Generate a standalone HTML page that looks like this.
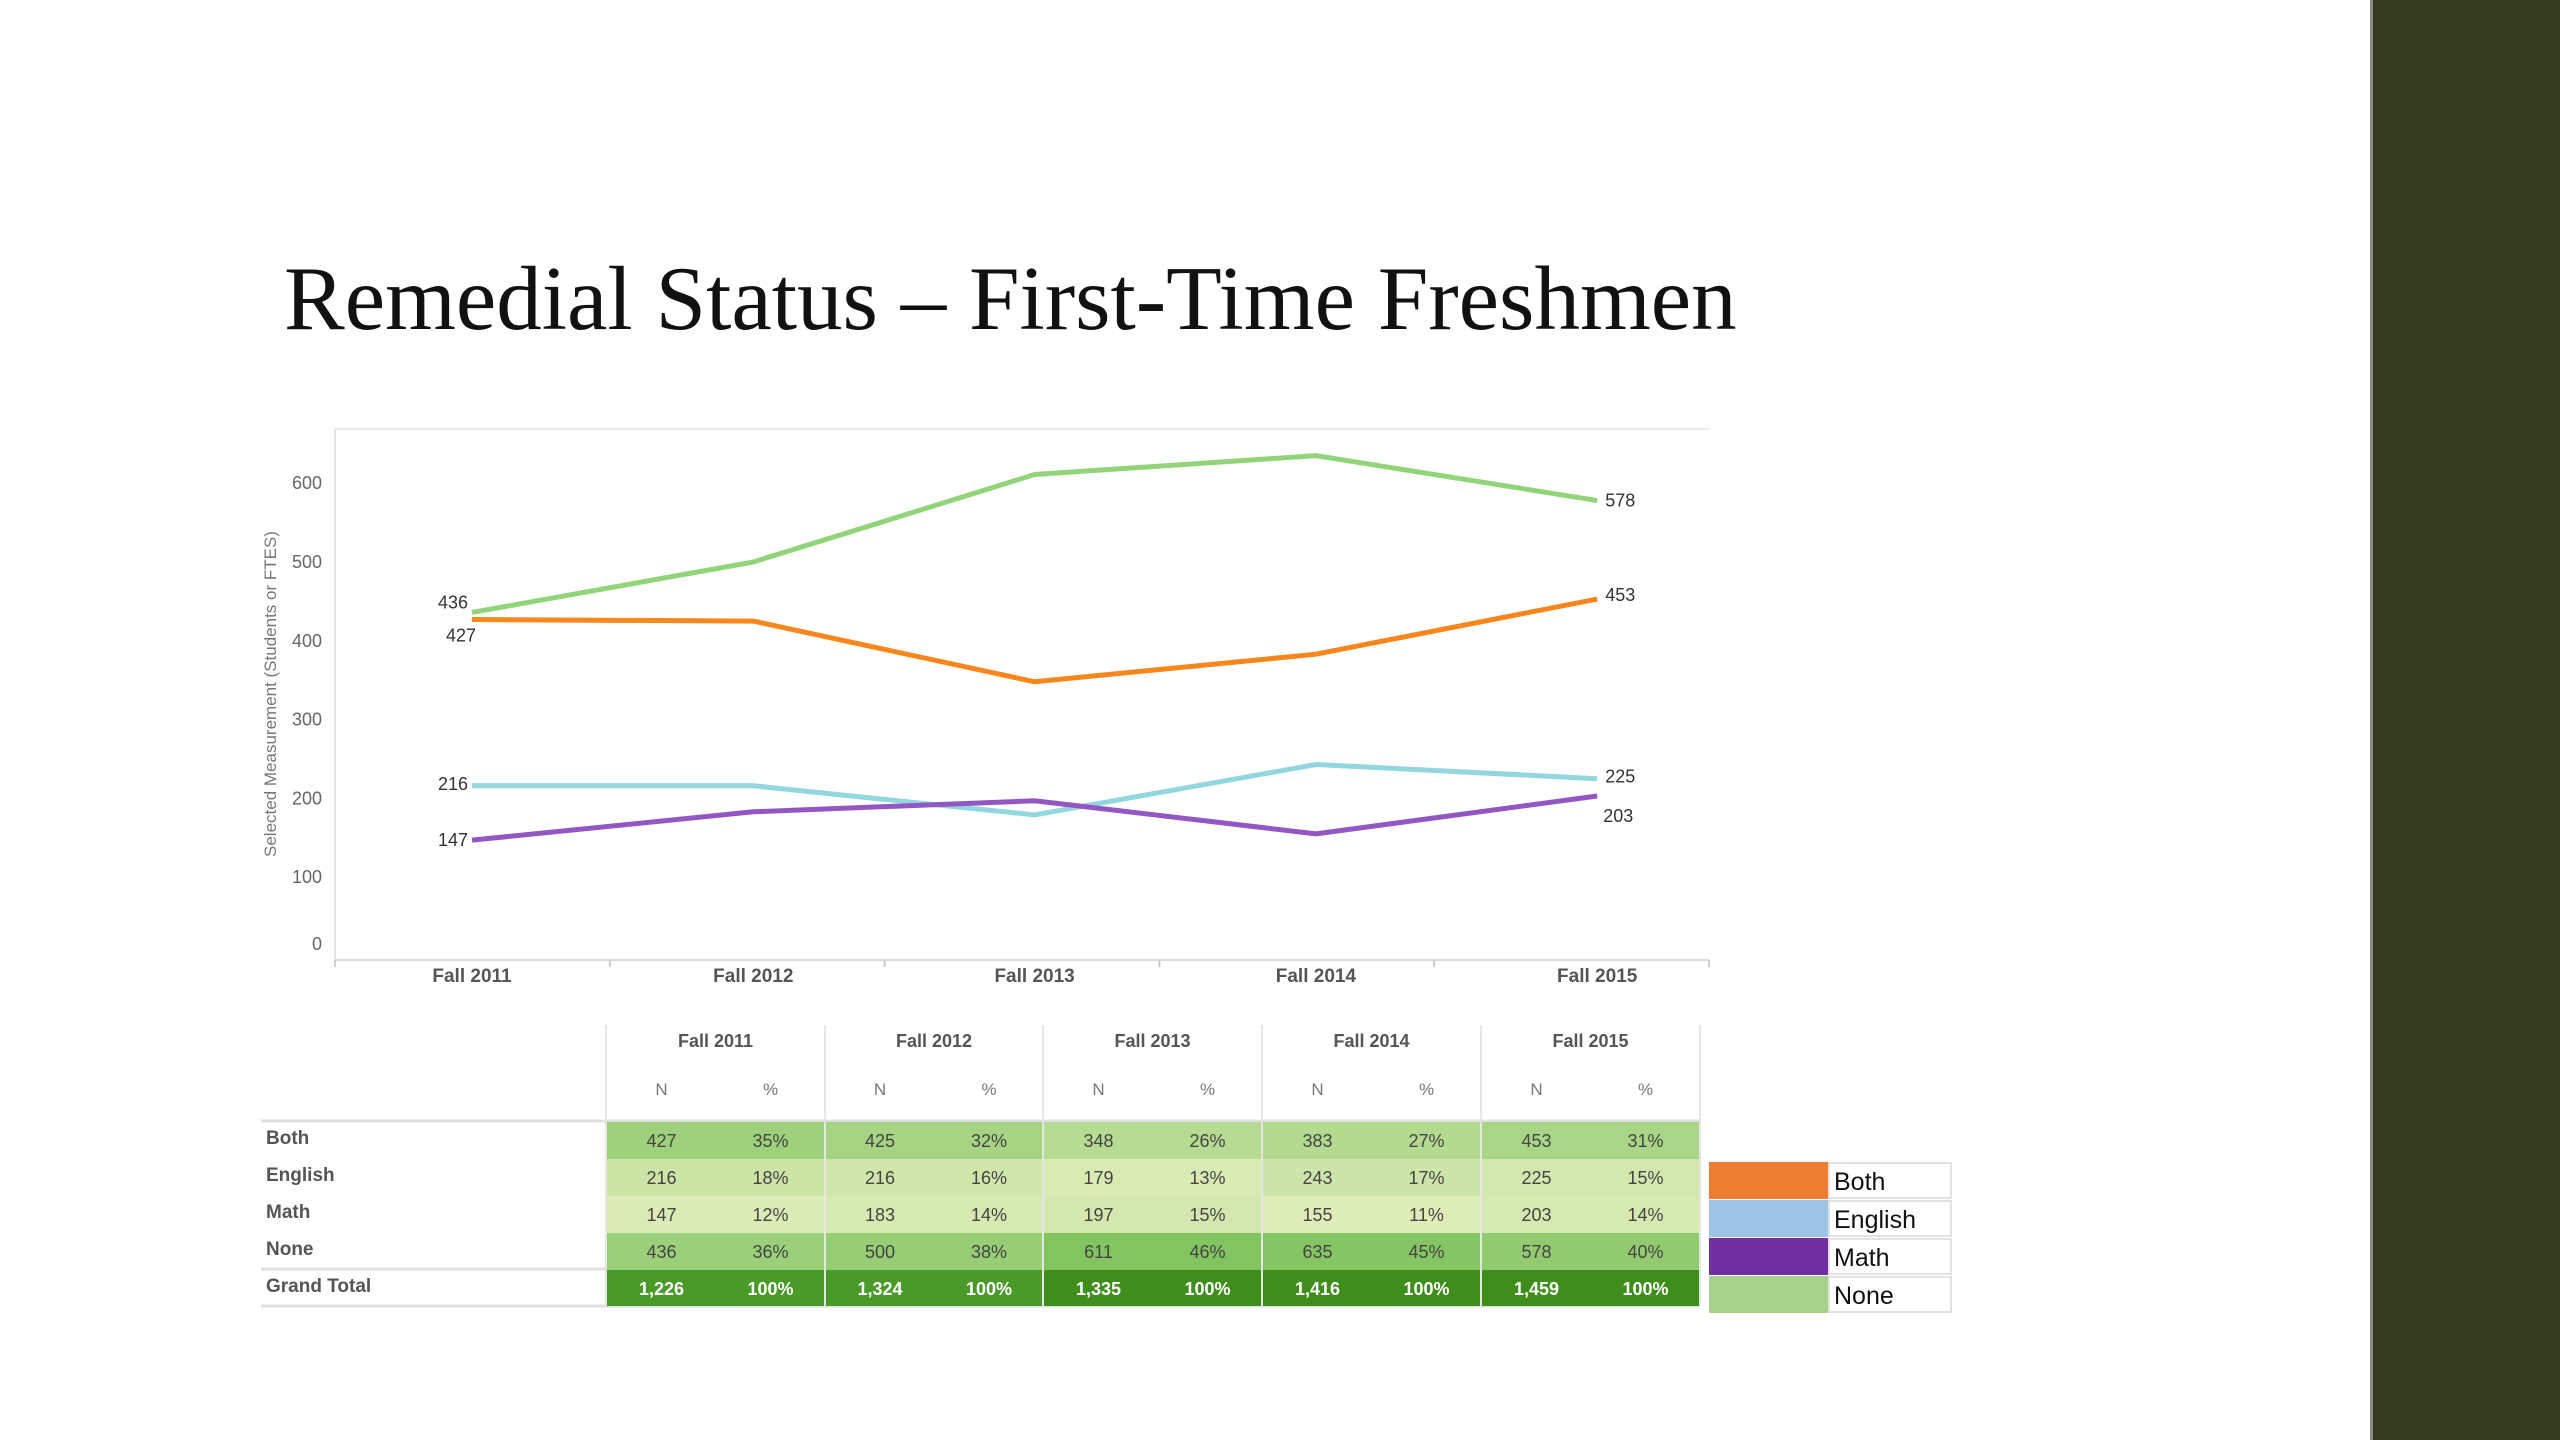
<!DOCTYPE html>
<html><head><meta charset="utf-8">
<style>
html,body{margin:0;padding:0;background:#fff;}
body{width:2560px;height:1440px;position:relative;overflow:hidden;font-family:"Liberation Sans",sans-serif;}
#band{position:absolute;left:2370px;top:0;width:190px;height:1440px;background:#343b1f;border-left:3px solid #8a8a80;}
#title{position:absolute;left:284px;top:246px;font-family:"Liberation Serif",serif;font-size:91px;color:#111;white-space:nowrap;}
svg{position:absolute;left:0;top:0;}
</style></head>
<body>
<div id="band"></div>
<div id="title">Remedial Status – First-Time Freshmen</div>
<svg id="chart" width="2560" height="1440"></svg>
<script>
const categories = ["Fall 2011","Fall 2012","Fall 2013","Fall 2014","Fall 2015"];
const seriesNames = ["Both","English","Math","None"];
const bothVals = [427,425,348,383,453];
const englishVals = [216,216,179,243,225];
const mathVals = [147,183,197,155,203];
const noneVals = [436,500,611,635,578];
const bothPct = [35,32,26,27,31];
const englishPct = [18,16,13,17,15];
const mathPct = [12,14,15,11,14];
const nonePct = [36,38,46,45,40];
const totals = ["1,226","1,324","1,335","1,416","1,459"];
const yTicks = [0,100,200,300,400,500,600];

const NS="http://www.w3.org/2000/svg";
const svg=document.getElementById('chart');
function mk(tag,attrs,parent){const e=document.createElementNS(NS,tag);for(const k in attrs)e.setAttribute(k,attrs[k]);(parent||svg).appendChild(e);return e;}
const plotL=335,plotR=1709,plotT=429,axisY=960;
const y0=956,yPer100=78.8;
function yScale(v){return y0-v*yPer100/100;}
const band=(plotR-plotL)/categories.length;
function xScale(i){return 472+281.3*i;}

let e;
e=mk('line',{x1:plotL,y1:plotT,x2:plotR,y2:plotT,stroke:'#ececec','stroke-width':2});

e=mk('line',{x1:plotL,y1:plotT,x2:plotL,y2:axisY,stroke:'#e4e4e4','stroke-width':2});

e=mk('line',{x1:plotL,y1:axisY,x2:plotR,y2:axisY,stroke:'#dcdcdc','stroke-width':2});

for(let i=0;i<=categories.length;i++){
  e=mk('line',{x1:plotL+band*i,y1:axisY,x2:plotL+band*i,y2:axisY+7,stroke:'#ccc','stroke-width':2});
  
}
yTicks.forEach(t=>{
  const yy=Math.min(yScale(t),944);
  e=mk('text',{x:322,y:yy+6,'text-anchor':'end','font-size':18,fill:'#666'});
  e.textContent=t;
  
});
e=mk('text',{x:276,y:694,'text-anchor':'middle','font-size':17,fill:'#777',transform:'rotate(-90 276 694)'});
e.textContent='Selected Measurement (Students or FTES)';

categories.forEach((c,i)=>{
  e=mk('text',{x:xScale(i),y:982,'text-anchor':'middle','font-size':19,'font-weight':'bold',fill:'#555'});
  e.textContent=c;
  
});
const lineSeries=[
  {name:'none',vals:noneVals,color:'#92d47a',first:{dy:-4,dx:-4},last:{dy:6}},
  {name:'both',vals:bothVals,color:'#f7861d',first:{dy:22,dx:4},last:{dy:2}},
  {name:'english',vals:englishVals,color:'#92d6e0',first:{dy:4,dx:-4},last:{dy:4}},
  {name:'math',vals:mathVals,color:'#9357c4',first:{dy:6,dx:-4},last:{dy:26,dx:-2}},
];
lineSeries.forEach(s=>{
  const pts=s.vals.map((v,i)=>xScale(i)+','+yScale(v)).join(' ');
  e=mk('polyline',{points:pts,fill:'none',stroke:s.color,'stroke-width':5,'stroke-linejoin':'round'});
  
  const n=s.vals.length;
  e=mk('text',{x:xScale(0)+(s.first.dx||0),y:yScale(s.vals[0])+s.first.dy,'text-anchor':'end','font-size':18,fill:'#333'});
  e.textContent=s.vals[0];
  
  e=mk('text',{x:xScale(n-1)+8+(s.last.dx||0),y:yScale(s.vals[n-1])+s.last.dy,'text-anchor':'start','font-size':18,fill:'#333'});
  e.textContent=s.vals[n-1];
  
});

const colX=[606,825,1043,1262,1481,1700];
const rowTops=[1122,1159,1196,1233,1270];
const rowH=36;
function shade(p){
  const t=Math.max(0,Math.min(1,(p-11)/35));
  const a=[222,236,184],b=[130,196,96];
  return 'rgb('+a.map((c,i)=>Math.round(c+(b[i]-c)*t)).join(',')+')';
}
categories.forEach((c,i)=>{
  const cx=(colX[i]+colX[i+1])/2;
  e=mk('line',{x1:colX[i],y1:1025,x2:colX[i],y2:1305,stroke:'#e6e6e6','stroke-width':2});
  
  e=mk('text',{x:cx,y:1047,'text-anchor':'middle','font-size':18,'font-weight':'bold',fill:'#555'});
  e.textContent=c;
  
  e=mk('text',{x:cx-54,y:1095,'text-anchor':'middle','font-size':17,fill:'#777'});
  e.textContent='N';
  e=mk('text',{x:cx+55,y:1095,'text-anchor':'middle','font-size':17,fill:'#777'});
  e.textContent='%';
});
e=mk('line',{x1:colX[5],y1:1025,x2:colX[5],y2:1305,stroke:'#e6e6e6','stroke-width':2});

const rowVals=[bothVals,englishVals,mathVals,noneVals];
const rowPcts=[bothPct,englishPct,mathPct,nonePct];
const rowLabels=["Both","English","Math","None","Grand Total"];
e=mk('line',{x1:261,y1:1121,x2:colX[5],y2:1121,stroke:'#e0e0e0','stroke-width':3});

e=mk('line',{x1:261,y1:1269,x2:colX[5],y2:1269,stroke:'#e0e0e0','stroke-width':3});

e=mk('line',{x1:261,y1:1306,x2:colX[5],y2:1306,stroke:'#e0e0e0','stroke-width':3});

rowLabels.forEach((l,r)=>{
  e=mk('text',{x:266,y:rowTops[r]+22,'font-size':19,'font-weight':'bold',fill:'#555'});
  e.textContent=l;
  
});
for(let r=0;r<4;r++){
  categories.forEach((c,i)=>{
    const x0=colX[i]+1,x1=colX[i+1]-1,cx=(colX[i]+colX[i+1])/2;
    e=mk('rect',{x:x0,y:rowTops[r],width:x1-x0,height:rowH+1,fill:shade(rowPcts[r][i])});
    
    e=mk('text',{x:cx-54,y:rowTops[r]+25,'text-anchor':'middle','font-size':18,fill:'#444'});
    e.textContent=rowVals[r][i];
    e=mk('text',{x:cx+55,y:rowTops[r]+25,'text-anchor':'middle','font-size':18,fill:'#444'});
    e.textContent=rowPcts[r][i]+'%';
  });
}
categories.forEach((c,i)=>{
  const x0=colX[i]+1,x1=colX[i+1]-1,cx=(colX[i]+colX[i+1])/2;
  e=mk('rect',{x:x0,y:rowTops[4],width:x1-x0,height:rowH,fill:(i<2?'#4a9a2a':'#3f8e1c')});
  
  e=mk('text',{x:cx-54,y:rowTops[4]+25,'text-anchor':'middle','font-size':18,'font-weight':'bold',fill:'#fff'});
  e.textContent=totals[i];
  e=mk('text',{x:cx+55,y:rowTops[4]+25,'text-anchor':'middle','font-size':18,'font-weight':'bold',fill:'#fff'});
  e.textContent='100%';
});

const legendColors=['#ed7d31','#9dc3e6','#7030a0','#a9d18e'];
const legTops=[1162,1200,1238,1276];
seriesNames.forEach((n,i)=>{
  e=mk('rect',{x:1709,y:legTops[i],width:120,height:37,fill:legendColors[i]});
  
  e=mk('rect',{x:1829,y:legTops[i]+1,width:122,height:35,fill:'#fff',stroke:'#e2e2e2','stroke-width':2});
  
  e=mk('text',{x:1834,y:legTops[i]+28,'font-size':25,fill:'#111'});
  e.textContent=n;
  
});
</script>
</body></html>
